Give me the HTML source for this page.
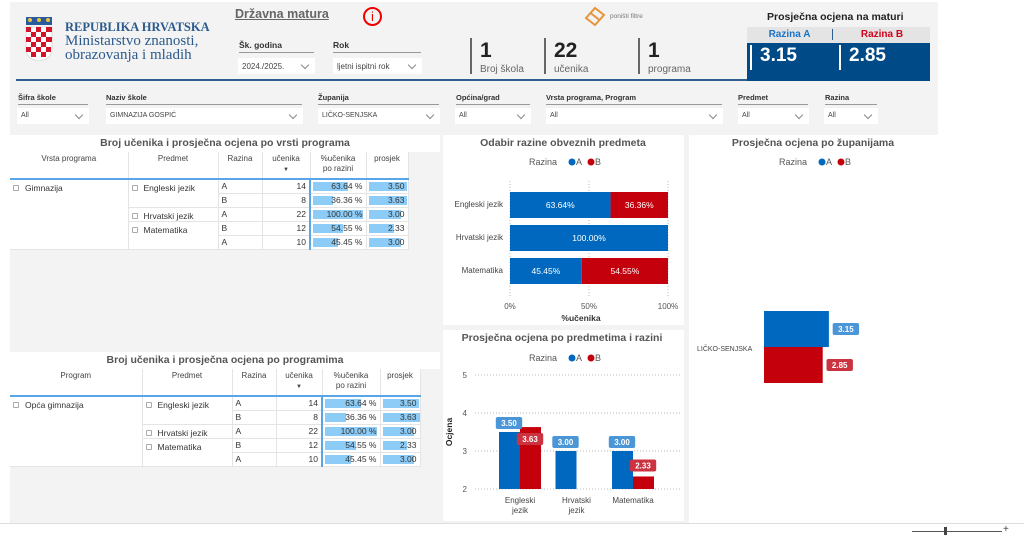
<!DOCTYPE html>
<html><head><meta charset="utf-8">
<style>
*{box-sizing:border-box;margin:0;padding:0}
body{width:1024px;height:537px;overflow:hidden;background:#fff;font-family:"Liberation Sans",sans-serif;position:relative}
.a{position:absolute}
.canvas{left:10px;top:2px;width:928px;height:521px;background:#f3f3f3}
.flbl{font-size:7.5px;font-weight:bold;color:#333;border-bottom:1px solid #999;padding-bottom:2px}
.dd{background:#fff;height:16px;font-size:7px;color:#444;padding:4px 4px;}
.dd:after{content:"";position:absolute;right:7px;top:4px;width:5px;height:5px;border-right:1px solid #888;border-bottom:1px solid #888;transform:rotate(45deg)}
.panel{background:#fff}
.ptitle{font-size:10.5px;font-weight:bold;color:#555;text-align:center}
table{border-collapse:collapse;table-layout:fixed;font-size:8.5px;color:#333;background:#fff}
th{font-weight:normal;color:#444;vertical-align:top;height:27px;padding-top:2px;border-right:1px solid #e4e4e4;border-bottom:2px solid #58a6e8;text-align:center;line-height:10px;font-size:8px}
td{height:14px;border-right:1px solid #e4e4e4;border-bottom:1px solid #e4e4e4;padding:0 3px;vertical-align:middle}
td.top{vertical-align:top;padding-top:3px}
td.n{text-align:right;border-right:2px solid #58a6e8}
td.bar{position:relative;text-align:right}
td.bar span{position:absolute;left:2px;top:2px;bottom:2px;background:#8cccf7}
td.bar b{position:relative;font-weight:normal}
.cb{display:inline-block;width:6px;height:6px;border:1px solid #aaa;border-radius:1px;margin-right:6px}
.kpi{font-size:21px;font-weight:bold;color:#222}
.kpil{font-size:10px;color:#666}
.kbar{width:2px;background:#666}
</style></head><body>
<div class="a canvas"></div>

<svg class="a" style="left:24px;top:17px" width="30" height="44">
<rect x="2" y="0" width="26" height="8" fill="#2b5a9c"/><circle cx="6" cy="3" r="2" fill="#e8c43a"/><circle cx="15" cy="3" r="2" fill="#e8c43a"/><circle cx="24" cy="3" r="2" fill="#e8c43a"/>
<path d="M2 10 H28 V32 Q28 42 15 44 Q2 42 2 32Z" fill="#fff" stroke="#ddd"/>
<g fill="#d2142a"><rect x="2" y="10" width="5" height="5"/><rect x="12" y="10" width="5" height="5"/><rect x="22" y="10" width="6" height="5"/><rect x="7" y="15" width="5" height="5"/><rect x="17" y="15" width="5" height="5"/><rect x="2" y="20" width="5" height="5"/><rect x="12" y="20" width="5" height="5"/><rect x="22" y="20" width="6" height="5"/><rect x="7" y="25" width="5" height="5"/><rect x="17" y="25" width="5" height="5"/><rect x="2" y="30" width="5" height="5"/><rect x="12" y="30" width="5" height="5"/><rect x="22" y="30" width="5" height="5"/><rect x="7" y="35" width="5" height="5"/><rect x="17" y="35" width="5" height="5"/></g></svg>
<div class="a" style="left:65px;top:20px;font-family:'Liberation Serif',serif;color:#2b5a8c;line-height:14px"><div style="font-size:12.5px;font-weight:bold">REPUBLIKA HRVATSKA</div><div style="font-size:15px">Ministarstvo znanosti,</div><div style="font-size:15px">obrazovanja i mladih</div></div>
<div class="a" style="left:235px;top:7px;font-size:12.5px;font-weight:bold;color:#666;text-decoration:underline">Državna matura</div>
<div class="a" style="left:363px;top:7px;width:19px;height:19px;border:2px solid #e00;border-radius:50%;color:#e00;font-size:13px;text-align:center;line-height:15px">i</div>

<div class="a flbl" style="left:239px;top:40px;width:75px;font-size:8.5px">Šk. godina</div>
<div class="a dd" style="left:238px;top:58px;width:77px;font-size:8px">2024./2025.</div>
<div class="a flbl" style="left:333px;top:40px;width:88px;font-size:8.5px">Rok</div>
<div class="a dd" style="left:333px;top:58px;width:89px;font-size:8px">ljetni ispitni rok</div>

<div class="a kbar" style="left:470px;top:38px;height:36px"></div>
<div class="a kpi" style="left:480px;top:39px">1</div>
<div class="a kpil" style="left:480px;top:64px">Broj škola</div>
<div class="a kbar" style="left:544px;top:38px;height:36px"></div>
<div class="a kpi" style="left:554px;top:39px">22</div>
<div class="a kpil" style="left:554px;top:64px">učenika</div>
<div class="a kbar" style="left:638px;top:38px;height:36px"></div>
<div class="a kpi" style="left:648px;top:39px">1</div>
<div class="a kpil" style="left:648px;top:64px">programa</div>

<svg class="a" style="left:583px;top:5px" width="24" height="22"><path d="M3 13 L12 3 L21 10 L12 20 Z M7.5 8 L16.5 15" fill="none" stroke="#e8943a" stroke-width="2"/></svg>
<div class="a" style="left:610px;top:13px;font-size:6.5px;color:#777">poništi filtre</div>

<div class="a" style="left:16px;top:79px;width:731px;height:2px;background:#2f5f8f"></div>
<div class="a" style="left:767px;top:11px;font-size:10.5px;font-weight:bold;color:#222">Prosječna ocjena na maturi</div>
<div class="a" style="left:747px;top:27px;width:183px;height:16px;background:#e4e4e4"></div>
<div class="a" style="left:747px;top:29px;width:86px;text-align:center;font-size:10px;font-weight:bold;color:#1a73c8;border-right:1px solid #2f5f8f">Razina A</div>
<div class="a" style="left:834px;top:29px;width:96px;text-align:center;font-size:10px;font-weight:bold;color:#d0021b">Razina B</div>
<div class="a" style="left:747px;top:43px;width:183px;height:38px;background:#004a87"></div>
<div class="a" style="left:750px;top:45px;width:2px;height:25px;background:#fff"></div>
<div class="a" style="left:760px;top:45px;font-size:19px;font-weight:bold;color:#fff">3.15</div>
<div class="a" style="left:839px;top:45px;width:2px;height:25px;background:#fff"></div>
<div class="a" style="left:849px;top:45px;font-size:19px;font-weight:bold;color:#fff">2.85</div>

<div class="a flbl" style="left:18px;top:93px;width:70px">Šifra škole</div>
<div class="a dd" style="left:17px;top:108px;width:72px">All</div>
<div class="a flbl" style="left:106px;top:93px;width:196px">Naziv škole</div>
<div class="a dd" style="left:106px;top:108px;width:197px">GIMNAZIJA GOSPIĆ</div>
<div class="a flbl" style="left:318px;top:93px;width:121px">Županija</div>
<div class="a dd" style="left:318px;top:108px;width:122px">LIČKO-SENJSKA</div>
<div class="a flbl" style="left:456px;top:93px;width:74px">Općina/grad</div>
<div class="a dd" style="left:455px;top:108px;width:76px">All</div>
<div class="a flbl" style="left:546px;top:93px;width:176px">Vrsta programa, Program</div>
<div class="a dd" style="left:546px;top:108px;width:177px">All</div>
<div class="a flbl" style="left:738px;top:93px;width:70px">Predmet</div>
<div class="a dd" style="left:738px;top:108px;width:71px">All</div>
<div class="a flbl" style="left:825px;top:93px;width:52px">Razina</div>
<div class="a dd" style="left:824px;top:108px;width:54px">All</div>

<div class="a panel ptitle" style="left:10px;top:135px;width:430px;height:17px;padding-top:2px">Broj učenika i prosječna ocjena po vrsti programa</div>
<table class="a" style="left:10px;top:152px;width:398px">
<colgroup><col style="width:118px"><col style="width:90px"><col style="width:44px"><col style="width:48px"><col style="width:56px"><col style="width:42px"></colgroup>
<tr><th>Vrsta programa</th><th>Predmet</th><th>Razina</th><th>učenika<br><span style="font-size:6px">▼</span></th><th>%učenika<br>po razini</th><th>prosjek</th></tr>
<tr><td rowspan="5" class="top"><span class="cb"></span>Gimnazija</td><td rowspan="2" class="top"><span class="cb"></span>Engleski jezik</td><td>A</td><td class="n">14</td><td class="bar"><span style="width:63.6%"></span><b>63.64 %</b></td><td class="bar"><span style="width:94%"></span><b>3.50</b></td></tr>
<tr><td>B</td><td class="n">8</td><td class="bar"><span style="width:36.4%"></span><b>36.36 %</b></td><td class="bar"><span style="width:95%"></span><b>3.63</b></td></tr>
<tr><td class="top"><span class="cb"></span>Hrvatski jezik</td><td>A</td><td class="n">22</td><td class="bar"><span style="width:92%"></span><b>100.00 %</b></td><td class="bar"><span style="width:80%"></span><b>3.00</b></td></tr>
<tr><td rowspan="2" class="top"><span class="cb"></span>Matematika</td><td>B</td><td class="n">12</td><td class="bar"><span style="width:54.5%"></span><b>54.55 %</b></td><td class="bar"><span style="width:62%"></span><b>2.33</b></td></tr>
<tr><td>A</td><td class="n">10</td><td class="bar"><span style="width:45.5%"></span><b>45.45 %</b></td><td class="bar"><span style="width:80%"></span><b>3.00</b></td></tr>
</table>

<div class="a panel ptitle" style="left:10px;top:352px;width:430px;height:17px;padding-top:2px">Broj učenika i prosječna ocjena po programima</div>
<table class="a" style="left:10px;top:369px;width:410px">
<colgroup><col style="width:132px"><col style="width:90px"><col style="width:44px"><col style="width:46px"><col style="width:58px"><col style="width:40px"></colgroup>
<tr><th>Program</th><th>Predmet</th><th>Razina</th><th>učenika<br><span style="font-size:6px">▼</span></th><th>%učenika<br>po razini</th><th>prosjek</th></tr>
<tr><td rowspan="5" class="top"><span class="cb"></span>Opća gimnazija</td><td rowspan="2" class="top"><span class="cb"></span>Engleski jezik</td><td>A</td><td class="n">14</td><td class="bar"><span style="width:63.6%"></span><b>63.64 %</b></td><td class="bar"><span style="width:94%"></span><b>3.50</b></td></tr>
<tr><td>B</td><td class="n">8</td><td class="bar"><span style="width:36.4%"></span><b>36.36 %</b></td><td class="bar"><span style="width:95%"></span><b>3.63</b></td></tr>
<tr><td class="top"><span class="cb"></span>Hrvatski jezik</td><td>A</td><td class="n">22</td><td class="bar"><span style="width:92%"></span><b>100.00 %</b></td><td class="bar"><span style="width:80%"></span><b>3.00</b></td></tr>
<tr><td rowspan="2" class="top"><span class="cb"></span>Matematika</td><td>B</td><td class="n">12</td><td class="bar"><span style="width:54.5%"></span><b>54.55 %</b></td><td class="bar"><span style="width:62%"></span><b>2.33</b></td></tr>
<tr><td>A</td><td class="n">10</td><td class="bar"><span style="width:45.5%"></span><b>45.45 %</b></td><td class="bar"><span style="width:80%"></span><b>3.00</b></td></tr>
</table>

<div class="a panel" style="left:443px;top:135px;width:241px;height:190px"></div>
<div class="a panel" style="left:443px;top:330px;width:241px;height:191px"></div>
<div class="a panel" style="left:689px;top:135px;width:249px;height:388px"></div>

<svg class="a" id="charts" style="left:0;top:0" width="1024" height="537"></svg>

<div class="a" style="left:0;top:523px;width:1024px;height:14px;background:#fff;border-top:1px solid #ddd"></div>
<div class="a" style="left:912px;top:531px;width:90px;height:1px;background:#555"></div>
<div class="a" style="left:944px;top:527px;width:3px;height:8px;background:#444"></div>
<div class="a" style="left:1003px;top:524px;font-size:10px;color:#444">+</div>

<script>
// Chart 1: odabir razine
const subjects1 = ["Engleski jezik","Hrvatski jezik","Matematika"];
const shareA = [63.64, 100.00, 45.45];
const shareB = [36.36, 0, 54.55];
const pctTicks = [0, 50, 100];
// Chart 2: prosječna ocjena po predmetima
const subjects2 = [["Engleski","jezik"],["Hrvatski","jezik"],["Matematika"]];
const gradeA = [3.50, 3.00, 3.00];
const gradeB = [3.63, null, 2.33];
const gradeTicks = [2, 3, 4, 5];
// Chart 3: po županijama
const counties = ["LIČKO-SENJSKA"];
const countyA = [3.15];
const countyB = [2.85];

const BLUE="#0069bf", RED="#c4000c";
const svg=document.getElementById('charts');
const NS="http://www.w3.org/2000/svg";
function el(tag,attrs,parent){const e=document.createElementNS(NS,tag);for(const k in attrs)e.setAttribute(k,attrs[k]);(parent||svg).appendChild(e);return e;}
function txt(x,y,s,attrs){const t=el('text',Object.assign({x:x,y:y,'font-family':'Liberation Sans, sans-serif','font-size':8,fill:'#444'},attrs||{}));t.textContent=s;return t;}
function title(x,y,s,name){const t=txt(x,y,s,{'font-size':10.5,'font-weight':'bold',fill:'#555','text-anchor':'middle'});}
function legend(cx,y,name){const g=el('g',{});
 txt(cx-39,y,'Razina',{'font-size':9,fill:'#555'});el('circle',{cx:cx+4,cy:y-3,r:3.5,fill:BLUE},g);txt(cx+8,y,'A',{'font-size':9,fill:'#555'});
 el('circle',{cx:cx+23,cy:y-3,r:3.5,fill:RED},g);txt(cx+27,y,'B',{'font-size':9,fill:'#555'});}
function label(x,y,s,color,name){const w=s.length*4.6+8;const r=el('rect',{x:x-w/2,y:y-6,width:w,height:12,rx:2,fill:color});
 txt(x,y+3,s,{'font-size':8,'font-weight':'bold',fill:'#fff','text-anchor':'middle'});}

title(563,146,"Odabir razine obveznih predmeta","razine-chart-title");
legend(568,165,"razine-legend");
const x1=v=>510+v*(668-510)/100;
const y1=i=>192+i*33;
pctTicks.forEach(t=>{const l=el('line',{x1:x1(t),x2:x1(t),y1:181,y2:296,stroke:'#bbb','stroke-dasharray':'1,2'});
 const tt=txt(x1(t),309,t+'%',{'text-anchor':'middle','font-size':8,fill:'#555'});});
subjects1.forEach((s,i)=>{const l=txt(503,y1(i)+15,s,{'text-anchor':'end','font-size':8,fill:'#444'});
 if(shareA[i]>0){const r=el('rect',{x:x1(0),y:y1(i),width:x1(shareA[i])-x1(0),height:26,fill:BLUE});
  txt((x1(0)+x1(shareA[i]))/2,y1(i)+16,shareA[i].toFixed(2)+'%',{'text-anchor':'middle',fill:'#fff','font-size':8.5});}
 if(shareB[i]>0){const r=el('rect',{x:x1(shareA[i]),y:y1(i),width:x1(shareA[i]+shareB[i])-x1(shareA[i]),height:26,fill:RED});
  txt((x1(shareA[i])+x1(shareA[i]+shareB[i]))/2,y1(i)+16,shareB[i].toFixed(2)+'%',{'text-anchor':'middle',fill:'#fff','font-size':8.5});}});
const xt=txt(581,321,'%učenika',{'text-anchor':'middle','font-weight':'bold','font-size':8.5,fill:'#333'});

title(562,341,"Prosječna ocjena po predmetima i razini","ocjena-chart-title");
legend(568,361,"ocjena-legend");
const y2=v=>489-(v-2)*38;
const cx2=i=>520+i*56.5;
gradeTicks.forEach(t=>{const l=el('line',{x1:475,x2:680,y1:y2(t),y2:y2(t),stroke:'#bbb','stroke-dasharray':'1,2'});
 const tt=txt(467,y2(t)+3,String(t),{'text-anchor':'end','font-size':8,fill:'#555'});});
const yt=txt(0,0,'Ocjena',{'font-weight':'bold','font-size':8.5,fill:'#222','text-anchor':'middle',transform:'translate(452,432) rotate(-90)'});
subjects2.forEach((s,i)=>{s.forEach((w,j)=>{const l=txt(cx2(i),503+j*10,w,{'text-anchor':'middle','font-size':8,fill:'#444'});});
 const hasB=gradeB[i]!=null;
 const ax=cx2(i)-21;
 const ra=el('rect',{x:ax,y:y2(gradeA[i]),width:21,height:y2(2)-y2(gradeA[i]),fill:BLUE});
 if(hasB){const rb=el('rect',{x:cx2(i),y:y2(gradeB[i]),width:21,height:y2(2)-y2(gradeB[i]),fill:RED});}
 label(ax+10,y2(gradeA[i])-9,gradeA[i].toFixed(2),'#4a96d6','label-razina-a');
 if(hasB)label(cx2(i)+10,y2(gradeB[i])+(gradeB[i]>gradeA[i]?12:-11),gradeB[i].toFixed(2),'#cc3340','label-razina-b');});

title(813,146,"Prosječna ocjena po županijama","zupanije-chart-title");
legend(818,165,"zupanije-legend");
const x3=v=>764+v*20.6;
counties.forEach((c,i)=>{const yc=311+i*72;
 const l=txt(697,yc+40,c,{'font-size':7,fill:'#444'});
 const ra=el('rect',{x:x3(0),y:yc,width:x3(countyA[i])-x3(0),height:36,fill:BLUE});
 const rb=el('rect',{x:x3(0),y:yc+36,width:x3(countyB[i])-x3(0),height:36,fill:RED});
 label(x3(countyA[i])+17,yc+18,countyA[i].toFixed(2),'#4a96d6','label-razina-a');
 label(x3(countyB[i])+17,yc+54,countyB[i].toFixed(2),'#cc3340','label-razina-b');});
</script>
</body></html>
